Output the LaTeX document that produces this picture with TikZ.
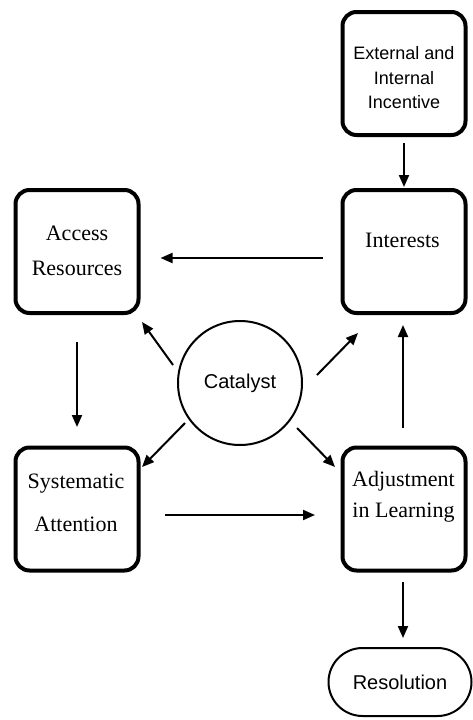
\documentclass[tikz,border=0pt]{standalone}
\usepackage{fontspec}
\setmainfont{Liberation Serif}
\newfontfamily\headsans{Liberation Sans}
\usetikzlibrary{arrows.meta,shapes.misc}
\begin{document}
\begin{tikzpicture}[x=1pt,y=-1pt,
  stagebox/.style={draw, line width=4pt, rounded corners=14pt,
    minimum width=123pt, minimum height=123pt, inner sep=0pt},
  serifcap/.style={align=center, inner sep=0pt},
  hub/.style={draw, circle, line width=2pt, minimum size=124pt, inner sep=0pt,
    font=\headsans\fontsize{20}{24}\selectfont},
  endcap/.style={draw, rounded rectangle, line width=2pt, minimum width=143pt,
    minimum height=68pt, inner sep=0pt, font=\headsans\fontsize{20}{24}\selectfont},
  arr/.style={line width=2pt, -{Triangle[length=12pt,width=10pt]}}]

% canvas
\fill[white] (0,0) rectangle (473,720);
\useasboundingbox (0,0) rectangle (473,720);

% stage boxes
\node[stagebox] (external) at (404,73.5) {};
\node[stagebox] (interests) at (404,251.5) {};
\node[stagebox] (access) at (77,251.5) {};
\node[stagebox] (systematic) at (77,509) {};
\node[stagebox] (adjustment) at (404,509) {};

% captions
\node[serifcap, font=\headsans\fontsize{18}{24.5}\selectfont] (external-text)
  at (404,78) {External and\\Internal\\Incentive};
\node[serifcap, font=\fontsize{22}{26}\selectfont] (interests-text)
  at (402.5,240) {Interests};
\node[serifcap, font=\fontsize{22}{35}\selectfont] (access-text)
  at (77,250.5) {Access\\Resources};
\node[serifcap, font=\fontsize{22}{43}\selectfont] (systematic-text)
  at (76,503) {Systematic\\Attention};
\node[serifcap, font=\fontsize{22}{31}\selectfont] (adjustment-text)
  at (403.5,497) {Adjustment\\in Learning};

% hub and end state
\node[hub] (catalyst) at (240,383) {Catalyst};
\node[endcap] (resolution) at (400,682) {Resolution};

% straight flows
\draw[arr, shorten <=6pt, shorten >=1pt] (external.south) -- (interests.north);
\draw[arr, shorten <=18pt, shorten >=20pt]
  ([shift={(0,6.5)}]interests.west) -- ([shift={(0,6.5)}]access.east);
\draw[arr, shorten <=27pt, shorten >=18.5pt] (access.south) -- (systematic.north);
\draw[arr, shorten <=24.5pt, shorten >=25.5pt]
  ([shift={(0,6)}]systematic.east) -- ([shift={(0,6)}]adjustment.west);
\draw[arr, shorten <=17.5pt, shorten >=10pt]
  ([shift={(-1,0)}]adjustment.north) -- ([shift={(-1,0)}]interests.south);
\draw[arr, shorten <=9.5pt, shorten >=9pt]
  ([shift={(-1,0)}]adjustment.south) -- ([shift={(-1,0)}]adjustment.south |- resolution.north);

% catalyst spokes
\draw[arr] ([shift={(-6.1,-1.7)}]catalyst.165) -- ([shift={(1.5,7)}]access.south east);
\draw[arr] ([shift={(14.3,-1.4)}]catalyst.6) -- ([shift={(17.5,18)}]interests.south west);
\draw[arr] ([shift={(-4,3)}]catalyst.216) -- ([shift={(1.5,21.5)}]systematic.north east);
\draw[arr] ([shift={(7.4,6.2)}]catalyst.322) -- ([shift={(-5.5,21.5)}]adjustment.north west);
\end{tikzpicture}
\end{document}
